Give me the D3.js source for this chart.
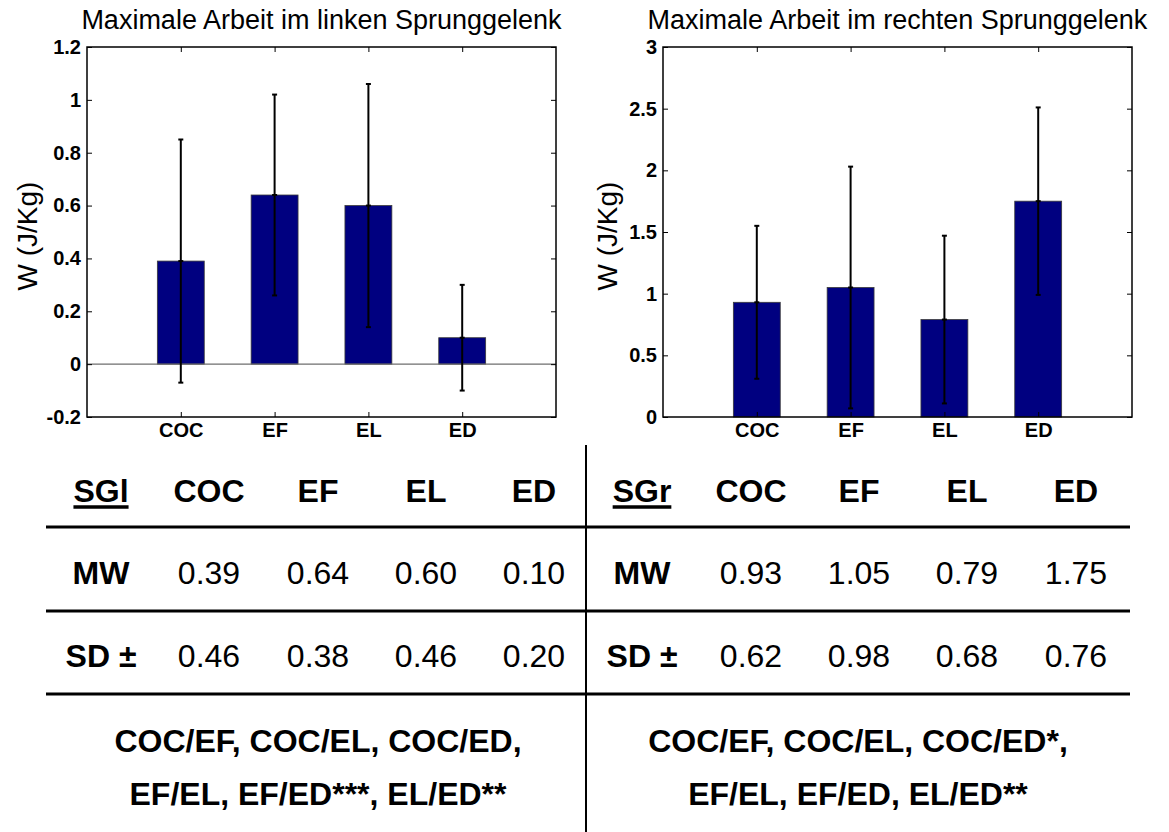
<!DOCTYPE html>
<html>
<head>
<meta charset="utf-8">
<script src="https://cdn.jsdelivr.net/npm/d3@7"></script>
<style>
  html, body { margin: 0; padding: 0; background: #fff; }
  svg { display: block; font-family: "Liberation Sans", Arial, sans-serif; }
</style>
</head>
<body>
<svg id="chart" width="1169" height="832"></svg>
<script>
// ---------- data ----------
const categories = ["COC", "EF", "EL", "ED"];
const leftMean  = [0.39, 0.64, 0.60, 0.10];
const leftSD    = [0.46, 0.38, 0.46, 0.20];
const rightMean = [0.93, 1.05, 0.79, 1.75];
const rightSD   = [0.62, 0.98, 0.68, 0.76];
const leftTicks  = [-0.2, 0, 0.2, 0.4, 0.6, 0.8, 1, 1.2];
const rightTicks = [0, 0.5, 1, 1.5, 2, 2.5, 3];
const leftTitle  = "Maximale Arbeit im linken Sprunggelenk";
const rightTitle = "Maximale Arbeit im rechten Sprunggelenk";
const yLabel = "W (J/Kg)";
const leftGroup = "SGl";
const rightGroup = "SGr";
const rowLabels = ["MW", "SD \u00B1"];
const leftSig  = ["COC/EF, COC/EL, COC/ED,", "EF/EL, EF/ED***, EL/ED**"];
const rightSig = ["COC/EF, COC/EL, COC/ED*,", "EF/EL, EF/ED, EL/ED**"];

// ---------- drawing ----------
const svg = d3.select("#chart");
const fmt = d3.format(".2f");
const tickFmt = d => String(+d.toFixed(2));

function drawPanel(cfg) {
  const g = svg.append("g");
  const x = d3.scaleLinear().domain([0, 5]).range([cfg.x0, cfg.x1]);
  const y = d3.scaleLinear().domain(cfg.yDomain).range([cfg.y1, cfg.y0]);
  const bw = x(0.5) - x(0);
  const cx = (d, i) => x(i + 1);

  // bars
  g.selectAll("rect.bar").data(cfg.mean).join("rect")
    .attr("class", "bar")
    .attr("x", (d, i) => cx(d, i) - bw / 2)
    .attr("width", bw)
    .attr("y", d => Math.min(y(d), y(0)))
    .attr("height", d => Math.abs(y(d) - y(0)))
    .attr("fill", "#000080")
    .attr("stroke", "#3a3a3a")
    .attr("stroke-width", 0.8);

  // baseline at zero
  if (cfg.yDomain[0] < 0) {
    g.append("line")
      .attr("x1", cfg.x0).attr("x2", cfg.x1)
      .attr("y1", y(0)).attr("y2", y(0))
      .attr("stroke", "#6e6e6e").attr("stroke-width", 1.2);
  }

  // error bars
  const eb = g.selectAll("g.err").data(cfg.mean).join("g").attr("class", "err");
  eb.append("line")
    .attr("x1", (d, i) => cx(d, i)).attr("x2", (d, i) => cx(d, i))
    .attr("y1", (d, i) => y(d - cfg.sd[i])).attr("y2", (d, i) => y(d + cfg.sd[i]))
    .attr("stroke", "#000").attr("stroke-width", 2);
  [-1, 1, 0].forEach(s => {
    eb.append("line")
      .attr("x1", (d, i) => cx(d, i) - 2.5).attr("x2", (d, i) => cx(d, i) + 2.5)
      .attr("y1", (d, i) => y(d + s * cfg.sd[i])).attr("y2", (d, i) => y(d + s * cfg.sd[i]))
      .attr("stroke", "#000").attr("stroke-width", 2);
  });

  // axes with inward ticks
  const tl = 5;
  const left = d3.axisLeft(y).tickValues(cfg.ticks).tickSize(-tl).tickPadding(6)
    .tickFormat(tickFmt);
  const right = d3.axisRight(y).tickValues(cfg.ticks).tickSize(-tl).tickFormat("");
  const bottom = d3.axisBottom(x).tickValues([1, 2, 3, 4]).tickSize(-tl).tickPadding(6)
    .tickFormat(d => categories[d - 1]);
  const top = d3.axisTop(x).tickValues([1, 2, 3, 4]).tickSize(-tl).tickFormat("");

  const styleAxis = sel => {
    sel.selectAll(".tick line").attr("stroke", "#000").attr("stroke-width", 1);
    sel.selectAll(".tick text").attr("fill", "#000")
      .style("font-size", "20px").style("font-weight", "bold")
      .style("font-family", "'Liberation Sans', Arial, sans-serif");
  };
  g.append("g").attr("transform", `translate(${cfg.x0},0)`).call(left).call(styleAxis);
  g.append("g").attr("transform", `translate(${cfg.x1},0)`).call(right).call(styleAxis);
  g.append("g").attr("transform", `translate(0,${cfg.y1})`).call(bottom).call(styleAxis);
  g.append("g").attr("transform", `translate(0,${cfg.y0})`).call(top).call(styleAxis);
  g.selectAll(".domain").remove();
  g.append("rect")
    .attr("x", cfg.x0).attr("y", cfg.y0)
    .attr("width", cfg.x1 - cfg.x0).attr("height", cfg.y1 - cfg.y0)
    .attr("fill", "none").attr("stroke", "#000").attr("stroke-width", 1.5);

  // title
  g.append("text")
    .attr("x", (cfg.x0 + cfg.x1) / 2).attr("y", 29)
    .attr("text-anchor", "middle")
    .style("font-size", "27px")
    .text(cfg.title);

  // y label
  g.append("text")
    .attr("transform", `translate(${cfg.yLabelX},236) rotate(-90)`)
    .attr("text-anchor", "middle")
    .attr("dy", "0.35em")
    .style("font-size", "28px")
    .text(yLabel);
}

drawPanel({ x0: 87, x1: 556, y0: 47, y1: 417, yDomain: [-0.2, 1.2], ticks: leftTicks,
  mean: leftMean, sd: leftSD, title: leftTitle, yLabelX: 27 });
drawPanel({ x0: 663, x1: 1132, y0: 47, y1: 417, yDomain: [0, 3], ticks: rightTicks,
  mean: rightMean, sd: rightSD, title: rightTitle, yLabelX: 607 });

// ---------- table ----------
const tbl = svg.append("g").style("font-size", "32px");
const lineYs = [527, 611, 694];
lineYs.forEach(ly => {
  tbl.append("line").attr("x1", 46).attr("x2", 1130).attr("y1", ly).attr("y2", ly)
    .attr("stroke", "#000").attr("stroke-width", 3);
});
tbl.append("line").attr("x1", 586).attr("x2", 586).attr("y1", 445).attr("y2", 832)
  .attr("stroke", "#000").attr("stroke-width", 2);

function drawSide(cols, group, mean, sd, sig, sigX) {
  const header = tbl.append("text").attr("x", cols[0]).attr("y", 502)
    .attr("text-anchor", "middle").style("font-weight", "bold").text(group);
  const bb = header.node().getBBox();
  tbl.append("line").attr("x1", bb.x).attr("x2", bb.x + bb.width)
    .attr("y1", 507).attr("y2", 507).attr("stroke", "#000").attr("stroke-width", 3.5);
  categories.forEach((c, i) => {
    tbl.append("text").attr("x", cols[i + 1]).attr("y", 502)
      .attr("text-anchor", "middle").style("font-weight", "bold").text(c);
  });
  [mean, sd].forEach((arr, r) => {
    const by = [584, 667][r];
    tbl.append("text").attr("x", cols[0]).attr("y", by)
      .attr("text-anchor", "middle").style("font-weight", "bold").text(rowLabels[r]);
    arr.forEach((v, i) => {
      tbl.append("text").attr("x", cols[i + 1]).attr("y", by)
        .attr("text-anchor", "middle").text(fmt(v));
    });
  });
  sig.forEach((s, k) => {
    tbl.append("text").attr("x", sigX).attr("y", [752, 805][k])
      .attr("text-anchor", "middle").style("font-weight", "bold").text(s);
  });
}
drawSide([101, 209, 318, 426, 534], leftGroup, leftMean, leftSD, leftSig, 318);
drawSide([642, 751, 859, 967, 1076], rightGroup, rightMean, rightSD, rightSig, 858);
</script>
</body>
</html>
